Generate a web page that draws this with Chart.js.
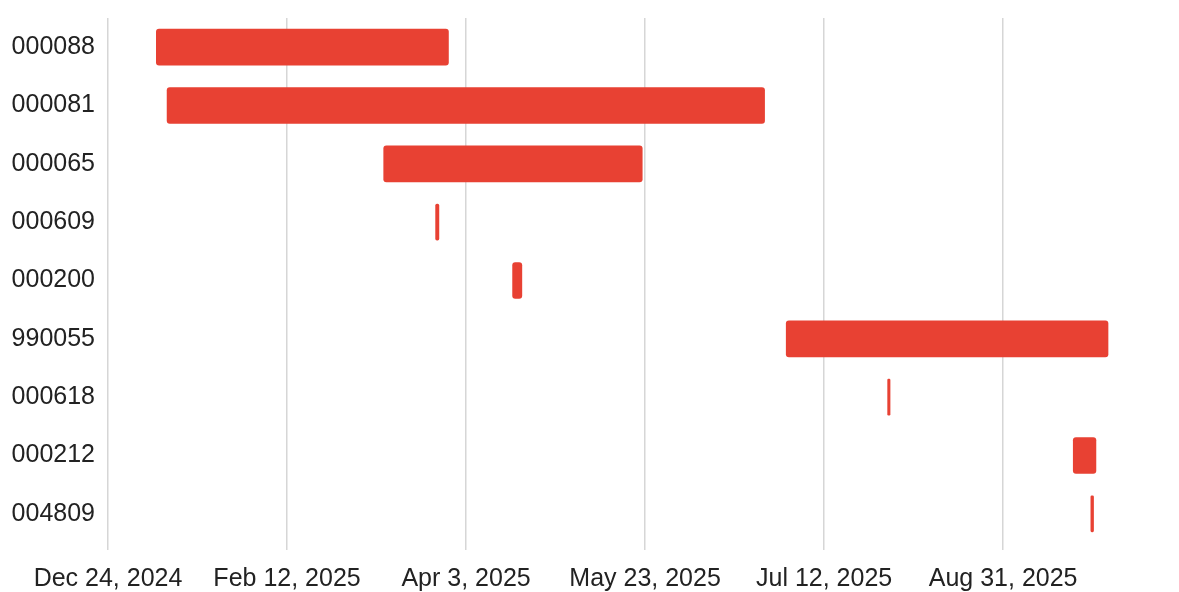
<!DOCTYPE html>
<html lang="en">
<head>
  <meta charset="UTF-8"/>
  <title>Timeline</title>
  <script src="https://cdn.jsdelivr.net/npm/chart.js"></script>
  <style>
    html, body { margin: 0; padding: 0; background: #fff; }
    #wrap { width: 1179px; height: 592px; }
  </style>
</head>
<body>
  <div id="wrap"><canvas id="timeline"></canvas></div>

  <script>
    // rows, top to bottom
    const ids = ['000088', '000081', '000065', '000609', '000200', '990055', '000618', '000212', '004809'];
    // start / end of each bar (UTC)
    const starts = ['2025-01-06T12:00', '2025-01-09T12:00', '2025-03-11T00:00', '2025-03-25T12:00', '2025-04-16T00:00',
                    '2025-07-01T10:00', '2025-07-29T18:00', '2025-09-19T14:00', '2025-09-24T12:00'];
    const ends   = ['2025-03-29T02:00', '2025-06-25T09:00', '2025-05-22T05:00', '2025-03-26T10:00', '2025-04-18T14:00',
                    '2025-09-29T07:00', '2025-07-30T10:00', '2025-09-25T22:00', '2025-09-25T06:00'];
    // axis: a tick every 50 days from Dec 24, 2024
    const axisStart = '2024-12-24T00:00';
    const axisEnd = '2025-10-18T00:00';
    const tickDays = 50;

    const DAY = 86400000;
    const months = ['Jan', 'Feb', 'Mar', 'Apr', 'May', 'Jun', 'Jul', 'Aug', 'Sep', 'Oct', 'Nov', 'Dec'];
    const toMs = s => Date.parse(s + 'Z');
    const fmt = ms => {
      const d = new Date(ms);
      return months[d.getUTCMonth()] + ' ' + d.getUTCDate() + ', ' + d.getUTCFullYear();
    };

    const xMin = toMs(axisStart);
    const xMax = toMs(axisEnd);
    const step = tickDays * DAY;

    const bars = ids.map((id, i) => [toMs(starts[i]), toMs(ends[i])]);

    Chart.defaults.font.family = '"Liberation Sans", Arial, sans-serif';
    Chart.defaults.font.size = 25;
    Chart.defaults.color = '#222';

    new Chart(document.getElementById('timeline'), {
      type: 'bar',
      data: {
        labels: ids,
        datasets: [{
          data: bars,
          backgroundColor: '#e84133',
          borderRadius: 3,
          borderSkipped: false,
          barThickness: 36
        }]
      },
      options: {
        indexAxis: 'y',
        responsive: true,
        maintainAspectRatio: false,
        animation: false,
        layout: { padding: { top: 18, right: 4, left: 0, bottom: 0 } },
        plugins: {
          legend: { display: false },
          tooltip: { enabled: false }
        },
        scales: {
          x: {
            type: 'linear',
            min: xMin,
            max: xMax,
            border: { display: false },
            grid: { color: '#d6d6d6', lineWidth: 1.5, drawTicks: true, tickLength: 7 },
            ticks: {
              padding: 14,
              maxRotation: 0,
              autoSkip: false,
              callback: v => fmt(v)
            },
            // own ticks: every 50 days starting at the axis start
            afterBuildTicks: scale => {
              const t = [];
              for (let v = xMin; v <= xMax; v += step) t.push({ value: v });
              scale.ticks = t;
            },
            afterFit: scale => { scale.height = 49; }
          },
          y: {
            border: { display: false },
            grid: { display: false },
            ticks: { padding: 5 },
            afterFit: scale => {
              scale.width = 108;
              scale.paddingTop = 0;
              scale.paddingBottom = 0;
            }
          }
        }
      }
    });
  </script>
</body>
</html>
